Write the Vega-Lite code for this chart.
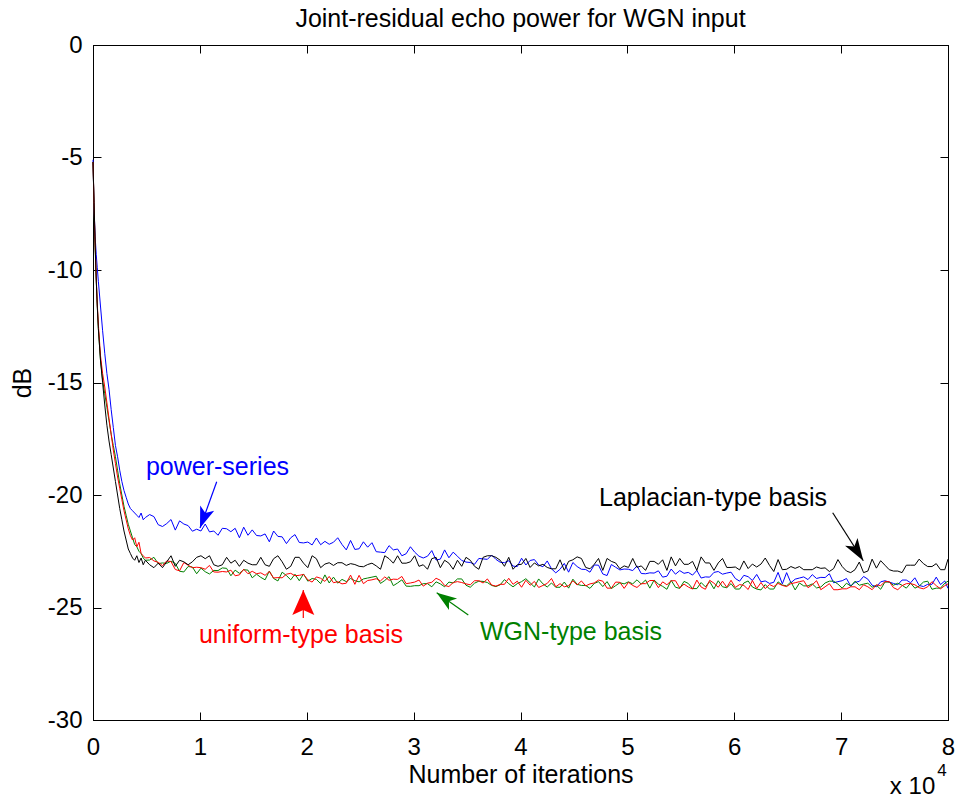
{
  "$schema": "https://vega.github.io/schema/vega-lite/v6.json",
  "width": 855,
  "height": 675,
  "autosize": {"type": "none"},
  "padding": {"left": 93, "top": 45, "right": 12, "bottom": 80},
  "background": "white",
  "config": {
    "view": {"stroke": "black", "strokeWidth": 1},
    "font": "Liberation Sans",
    "text": {"font": "Liberation Sans"}
  },
  "title": {
    "text": "Joint-residual echo power for WGN input",
    "fontSize": 25,
    "fontWeight": "normal",
    "font": "Liberation Sans",
    "color": "black",
    "offset": 1
  },
  "datasets": {
    "curves": [
      {"it":0,"lap":-5.2,"uni":-5.2,"wgn":-5.2,"pow":-5.1},
      {"it":100,"lap":-7.0,"uni":-7.1,"wgn":-7.2,"pow":-7.3},
      {"it":200,"lap":-8.8,"uni":-8.9,"wgn":-9.0,"pow":-8.5},
      {"it":300,"lap":-10.4,"uni":-10.3,"wgn":-10.4,"pow":-9.3},
      {"it":400,"lap":-11.6,"uni":-11.5,"wgn":-11.6,"pow":-9.9},
      {"it":500,"lap":-12.6,"uni":-12.4,"wgn":-12.6,"pow":-10.5},
      {"it":700,"lap":-14.0,"uni":-13.8,"wgn":-14.0,"pow":-11.6},
      {"it":900,"lap":-15.0,"uni":-14.6,"wgn":-14.9,"pow":-12.7},
      {"it":1100,"lap":-16.0,"uni":-15.2,"wgn":-15.5,"pow":-13.7},
      {"it":1300,"lap":-16.9,"uni":-15.9,"wgn":-16.1,"pow":-14.6},
      {"it":1500,"lap":-17.6,"uni":-16.6,"wgn":-16.7,"pow":-15.3},
      {"it":1700,"lap":-18.2,"uni":-17.3,"wgn":-17.3,"pow":-16.2},
      {"it":1900,"lap":-18.8,"uni":-18.0,"wgn":-17.8,"pow":-17.0},
      {"it":2100,"lap":-19.4,"uni":-18.6,"wgn":-18.3,"pow":-17.8},
      {"it":2300,"lap":-20.0,"uni":-19.2,"wgn":-18.9,"pow":-18.3},
      {"it":2500,"lap":-20.6,"uni":-19.7,"wgn":-19.5,"pow":-18.9},
      {"it":2700,"lap":-21.1,"uni":-20.2,"wgn":-20.0,"pow":-19.4},
      {"it":2900,"lap":-21.6,"uni":-20.7,"wgn":-20.5,"pow":-19.8},
      {"it":3100,"lap":-22.0,"uni":-21.1,"wgn":-20.9,"pow":-20.1},
      {"it":3300,"lap":-22.4,"uni":-21.5,"wgn":-21.3,"pow":-20.4},
      {"it":3500,"lap":-22.6,"uni":-21.8,"wgn":-21.6,"pow":-20.6},
      {"it":3700,"lap":-22.8,"uni":-22.0,"wgn":-21.9,"pow":-20.7},
      {"it":3900,"lap":-22.9,"uni":-21.9,"wgn":-22.2,"pow":-20.8},
      {"it":4100,"lap":-22.7,"uni":-22.3,"wgn":-22.3,"pow":-20.9},
      {"it":4300,"lap":-23.0,"uni":-22.1,"wgn":-22.5,"pow":-21.0},
      {"it":4500,"lap":-22.8,"uni":-22.6,"wgn":-22.6,"pow":-20.8},
      {"it":4700,"lap":-23.1,"uni":-22.7,"wgn":-22.8,"pow":-21.1},
      {"it":4900,"lap":-22.9,"uni":-22.8,"wgn":-22.9,"pow":-21.0},
      {"it":5300,"lap":-23.10,"uni":-22.78,"wgn":-22.89,"pow":-20.87},
      {"it":5700,"lap":-23.23,"uni":-22.93,"wgn":-22.77,"pow":-20.96},
      {"it":6100,"lap":-23.03,"uni":-22.99,"wgn":-23.05,"pow":-21.32},
      {"it":6500,"lap":-23.23,"uni":-23.14,"wgn":-23.02,"pow":-21.40},
      {"it":6900,"lap":-22.97,"uni":-22.93,"wgn":-23.04,"pow":-21.27},
      {"it":7300,"lap":-22.70,"uni":-22.96,"wgn":-22.94,"pow":-21.09},
      {"it":7700,"lap":-23.17,"uni":-23.31,"wgn":-23.04,"pow":-21.56},
      {"it":8100,"lap":-22.90,"uni":-23.37,"wgn":-23.39,"pow":-21.15},
      {"it":8500,"lap":-22.97,"uni":-23.00,"wgn":-23.42,"pow":-21.29},
      {"it":8900,"lap":-23.10,"uni":-23.12,"wgn":-23.18,"pow":-21.36},
      {"it":9300,"lap":-22.97,"uni":-23.23,"wgn":-23.20,"pow":-21.61},
      {"it":9700,"lap":-22.77,"uni":-23.21,"wgn":-23.50,"pow":-21.52},
      {"it":10100,"lap":-22.70,"uni":-23.23,"wgn":-23.25,"pow":-21.60},
      {"it":10500,"lap":-22.83,"uni":-23.30,"wgn":-23.41,"pow":-21.29},
      {"it":10900,"lap":-22.70,"uni":-23.13,"wgn":-23.51,"pow":-21.64},
      {"it":11300,"lap":-23.10,"uni":-23.42,"wgn":-23.35,"pow":-21.60},
      {"it":11700,"lap":-23.17,"uni":-23.43,"wgn":-23.36,"pow":-21.79},
      {"it":12100,"lap":-23.10,"uni":-23.40,"wgn":-23.24,"pow":-21.48},
      {"it":12500,"lap":-22.77,"uni":-23.42,"wgn":-23.26,"pow":-21.50},
      {"it":12900,"lap":-23.03,"uni":-23.34,"wgn":-23.59,"pow":-21.63},
      {"it":13300,"lap":-22.90,"uni":-23.59,"wgn":-23.34,"pow":-21.48},
      {"it":13700,"lap":-23.17,"uni":-23.55,"wgn":-23.48,"pow":-21.90},
      {"it":14100,"lap":-22.90,"uni":-23.30,"wgn":-23.32,"pow":-21.43},
      {"it":14500,"lap":-23.03,"uni":-23.50,"wgn":-23.34,"pow":-21.79},
      {"it":14900,"lap":-23.10,"uni":-23.39,"wgn":-23.68,"pow":-21.55},
      {"it":15300,"lap":-23.10,"uni":-23.50,"wgn":-23.52,"pow":-21.80},
      {"it":15700,"lap":-22.77,"uni":-23.46,"wgn":-23.66,"pow":-21.82},
      {"it":16100,"lap":-23.10,"uni":-23.57,"wgn":-23.77,"pow":-21.73},
      {"it":16500,"lap":-23.17,"uni":-23.40,"wgn":-23.38,"pow":-22.08},
      {"it":16900,"lap":-22.83,"uni":-23.69,"wgn":-23.71,"pow":-21.60},
      {"it":17300,"lap":-22.70,"uni":-23.67,"wgn":-23.82,"pow":-21.84},
      {"it":17700,"lap":-22.97,"uni":-23.68,"wgn":-23.43,"pow":-21.86},
      {"it":18100,"lap":-23.30,"uni":-23.52,"wgn":-23.58,"pow":-22.16},
      {"it":18500,"lap":-23.17,"uni":-23.48,"wgn":-23.77,"pow":-21.90},
      {"it":18900,"lap":-22.77,"uni":-23.59,"wgn":-23.52,"pow":-21.76},
      {"it":19300,"lap":-22.77,"uni":-23.57,"wgn":-23.81,"pow":-22.11},
      {"it":19700,"lap":-23.03,"uni":-23.53,"wgn":-23.51,"pow":-22.13},
      {"it":20100,"lap":-23.23,"uni":-23.77,"wgn":-23.83,"pow":-22.09},
      {"it":20500,"lap":-22.70,"uni":-23.87,"wgn":-23.71,"pow":-22.22},
      {"it":20900,"lap":-22.83,"uni":-23.64,"wgn":-23.75,"pow":-21.91},
      {"it":21300,"lap":-23.23,"uni":-23.70,"wgn":-23.94,"pow":-22.21},
      {"it":21700,"lap":-23.07,"uni":-23.84,"wgn":-23.55,"pow":-22.06},
      {"it":22100,"lap":-23.01,"uni":-23.62,"wgn":-23.91,"pow":-22.19},
      {"it":22500,"lap":-23.13,"uni":-23.90,"wgn":-23.65,"pow":-22.10},
      {"it":22900,"lap":-23.01,"uni":-23.85,"wgn":-23.92,"pow":-21.90},
      {"it":23300,"lap":-23.01,"uni":-23.95,"wgn":-23.75,"pow":-22.20},
      {"it":23700,"lap":-23.13,"uni":-23.92,"wgn":-23.85,"pow":-22.44},
      {"it":24100,"lap":-23.05,"uni":-23.56,"wgn":-23.71,"pow":-22.02},
      {"it":24500,"lap":-23.09,"uni":-23.97,"wgn":-23.81,"pow":-22.42},
      {"it":24900,"lap":-23.17,"uni":-23.57,"wgn":-23.86,"pow":-22.39},
      {"it":25300,"lap":-23.19,"uni":-23.94,"wgn":-23.73,"pow":-22.08},
      {"it":25700,"lap":-23.09,"uni":-23.80,"wgn":-23.69,"pow":-22.32},
      {"it":26100,"lap":-23.03,"uni":-23.77,"wgn":-23.65,"pow":-22.12},
      {"it":26500,"lap":-23.15,"uni":-23.72,"wgn":-23.61,"pow":-22.52},
      {"it":26900,"lap":-23.30,"uni":-23.82,"wgn":-23.93,"pow":-22.54},
      {"it":27300,"lap":-22.70,"uni":-23.64,"wgn":-23.80,"pow":-22.56},
      {"it":27700,"lap":-22.83,"uni":-23.79,"wgn":-23.63,"pow":-22.25},
      {"it":28100,"lap":-23.03,"uni":-23.74,"wgn":-24.03,"pow":-22.44},
      {"it":28500,"lap":-22.70,"uni":-23.75,"wgn":-23.91,"pow":-22.40},
      {"it":28900,"lap":-23.03,"uni":-23.62,"wgn":-23.77,"pow":-22.70},
      {"it":29300,"lap":-23.03,"uni":-23.94,"wgn":-24.05,"pow":-22.61},
      {"it":29700,"lap":-22.97,"uni":-23.91,"wgn":-24.06,"pow":-22.30},
      {"it":30100,"lap":-22.70,"uni":-23.87,"wgn":-24.03,"pow":-22.54},
      {"it":30500,"lap":-23.17,"uni":-23.78,"wgn":-24.03,"pow":-22.72},
      {"it":30900,"lap":-23.10,"uni":-24.05,"wgn":-23.94,"pow":-22.80},
      {"it":31300,"lap":-23.30,"uni":-23.92,"wgn":-23.94,"pow":-22.72},
      {"it":31700,"lap":-22.83,"uni":-23.88,"wgn":-24.08,"pow":-22.47},
      {"it":32100,"lap":-22.77,"uni":-23.70,"wgn":-23.86,"pow":-22.89},
      {"it":32500,"lap":-23.23,"uni":-23.79,"wgn":-23.95,"pow":-22.85},
      {"it":32900,"lap":-22.90,"uni":-24.02,"wgn":-24.08,"pow":-22.44},
      {"it":33300,"lap":-23.03,"uni":-24.07,"wgn":-23.87,"pow":-22.79},
      {"it":33700,"lap":-23.30,"uni":-23.89,"wgn":-23.91,"pow":-22.54},
      {"it":34100,"lap":-22.90,"uni":-23.85,"wgn":-23.73,"pow":-22.72},
      {"it":34500,"lap":-23.17,"uni":-23.89,"wgn":-23.73,"pow":-22.91},
      {"it":34900,"lap":-22.77,"uni":-23.95,"wgn":-24.01,"pow":-22.98},
      {"it":35300,"lap":-22.90,"uni":-23.99,"wgn":-24.10,"pow":-23.00},
      {"it":35700,"lap":-23.17,"uni":-23.81,"wgn":-23.92,"pow":-23.08},
      {"it":36100,"lap":-23.30,"uni":-23.81,"wgn":-23.83,"pow":-22.82},
      {"it":36500,"lap":-22.77,"uni":-23.91,"wgn":-23.84,"pow":-22.84},
      {"it":36900,"lap":-22.70,"uni":-23.73,"wgn":-23.89,"pow":-22.86},
      {"it":37300,"lap":-22.70,"uni":-24.00,"wgn":-24.02,"pow":-22.67},
      {"it":37700,"lap":-22.77,"uni":-24.05,"wgn":-24.07,"pow":-22.86},
      {"it":38100,"lap":-22.90,"uni":-23.97,"wgn":-23.99,"pow":-22.99},
      {"it":38500,"lap":-23.17,"uni":-23.97,"wgn":-23.76,"pow":-23.01},
      {"it":38900,"lap":-22.77,"uni":-23.70,"wgn":-23.94,"pow":-22.92},
      {"it":39300,"lap":-23.30,"uni":-23.97,"wgn":-24.08,"pow":-23.16},
      {"it":39700,"lap":-23.10,"uni":-23.83,"wgn":-23.94,"pow":-23.18},
      {"it":40100,"lap":-23.08,"uni":-24.10,"wgn":-23.85,"pow":-22.81},
      {"it":40500,"lap":-22.82,"uni":-23.79,"wgn":-23.72,"pow":-23.11},
      {"it":40900,"lap":-23.22,"uni":-24.01,"wgn":-23.90,"pow":-22.91},
      {"it":41300,"lap":-23.02,"uni":-23.84,"wgn":-24.09,"pow":-22.87},
      {"it":41700,"lap":-23.15,"uni":-24.11,"wgn":-23.73,"pow":-23.11},
      {"it":42100,"lap":-23.08,"uni":-24.02,"wgn":-23.95,"pow":-23.19},
      {"it":42500,"lap":-23.22,"uni":-23.93,"wgn":-24.09,"pow":-22.93},
      {"it":42900,"lap":-23.28,"uni":-23.71,"wgn":-23.91,"pow":-23.28},
      {"it":43300,"lap":-23.28,"uni":-24.08,"wgn":-24.10,"pow":-23.46},
      {"it":43700,"lap":-22.88,"uni":-23.94,"wgn":-24.10,"pow":-23.30},
      {"it":44100,"lap":-23.35,"uni":-24.08,"wgn":-23.87,"pow":-23.04},
      {"it":44500,"lap":-22.95,"uni":-24.03,"wgn":-24.14,"pow":-23.43},
      {"it":44900,"lap":-22.88,"uni":-23.81,"wgn":-23.74,"pow":-23.00},
      {"it":45300,"lap":-22.75,"uni":-24.00,"wgn":-23.97,"pow":-23.18},
      {"it":45700,"lap":-22.82,"uni":-23.82,"wgn":-24.02,"pow":-23.30},
      {"it":46100,"lap":-23.22,"uni":-24.04,"wgn":-24.02,"pow":-23.31},
      {"it":46500,"lap":-23.28,"uni":-23.95,"wgn":-24.15,"pow":-23.43},
      {"it":46900,"lap":-23.08,"uni":-23.91,"wgn":-23.93,"pow":-23.11},
      {"it":47300,"lap":-22.82,"uni":-23.78,"wgn":-23.85,"pow":-23.12},
      {"it":47700,"lap":-23.35,"uni":-23.83,"wgn":-24.07,"pow":-23.51},
      {"it":48100,"lap":-22.82,"uni":-24.14,"wgn":-23.85,"pow":-23.58},
      {"it":48500,"lap":-22.95,"uni":-24.14,"wgn":-24.16,"pow":-23.09},
      {"it":48900,"lap":-23.02,"uni":-23.87,"wgn":-24.03,"pow":-23.21},
      {"it":49300,"lap":-23.28,"uni":-23.88,"wgn":-23.90,"pow":-23.33},
      {"it":49700,"lap":-23.15,"uni":-24.15,"wgn":-23.95,"pow":-23.29},
      {"it":50100,"lap":-23.22,"uni":-23.88,"wgn":-23.86,"pow":-23.30},
      {"it":50500,"lap":-22.82,"uni":-24.02,"wgn":-23.95,"pow":-23.36},
      {"it":50900,"lap":-23.22,"uni":-24.11,"wgn":-23.77,"pow":-23.15},
      {"it":51300,"lap":-23.15,"uni":-23.94,"wgn":-23.96,"pow":-23.49},
      {"it":51700,"lap":-23.35,"uni":-23.94,"wgn":-23.78,"pow":-23.50},
      {"it":52100,"lap":-22.95,"uni":-23.80,"wgn":-24.14,"pow":-23.46},
      {"it":52500,"lap":-22.95,"uni":-23.80,"wgn":-23.78,"pow":-23.47},
      {"it":52900,"lap":-23.08,"uni":-24.12,"wgn":-23.96,"pow":-23.37},
      {"it":53300,"lap":-22.88,"uni":-23.86,"wgn":-24.06,"pow":-23.65},
      {"it":53700,"lap":-23.35,"uni":-23.99,"wgn":-24.19,"pow":-23.61},
      {"it":54100,"lap":-22.75,"uni":-23.81,"wgn":-23.79,"pow":-23.29},
      {"it":54500,"lap":-23.15,"uni":-23.81,"wgn":-24.10,"pow":-23.52},
      {"it":54900,"lap":-22.82,"uni":-24.13,"wgn":-24.15,"pow":-23.36},
      {"it":55300,"lap":-23.08,"uni":-23.96,"wgn":-23.84,"pow":-23.48},
      {"it":55700,"lap":-23.08,"uni":-24.09,"wgn":-23.93,"pow":-23.44},
      {"it":56100,"lap":-22.95,"uni":-24.18,"wgn":-24.16,"pow":-23.56},
      {"it":56500,"lap":-23.35,"uni":-23.78,"wgn":-24.16,"pow":-23.35},
      {"it":56900,"lap":-22.75,"uni":-24.09,"wgn":-23.89,"pow":-23.69},
      {"it":57300,"lap":-23.02,"uni":-24.19,"wgn":-24.08,"pow":-23.64},
      {"it":57700,"lap":-23.02,"uni":-23.79,"wgn":-23.85,"pow":-23.65},
      {"it":58100,"lap":-23.35,"uni":-23.92,"wgn":-24.17,"pow":-23.44},
      {"it":58500,"lap":-23.02,"uni":-24.10,"wgn":-23.81,"pow":-23.40},
      {"it":58900,"lap":-22.82,"uni":-23.83,"wgn":-24.08,"pow":-23.52},
      {"it":59300,"lap":-23.22,"uni":-24.10,"wgn":-24.12,"pow":-23.47},
      {"it":59700,"lap":-23.22,"uni":-23.79,"wgn":-23.94,"pow":-23.43},
      {"it":60100,"lap":-23.20,"uni":-24.11,"wgn":-24.18,"pow":-23.71},
      {"it":60500,"lap":-23.33,"uni":-23.98,"wgn":-24.18,"pow":-23.83},
      {"it":60900,"lap":-22.93,"uni":-24.02,"wgn":-23.91,"pow":-23.57},
      {"it":61300,"lap":-23.27,"uni":-24.20,"wgn":-23.82,"pow":-23.63},
      {"it":61700,"lap":-23.07,"uni":-23.80,"wgn":-24.09,"pow":-23.80},
      {"it":62100,"lap":-23.20,"uni":-24.16,"wgn":-24.18,"pow":-23.53},
      {"it":62500,"lap":-23.07,"uni":-23.89,"wgn":-24.22,"pow":-23.86},
      {"it":62900,"lap":-22.80,"uni":-24.16,"wgn":-23.98,"pow":-23.82},
      {"it":63300,"lap":-23.13,"uni":-23.98,"wgn":-24.18,"pow":-23.93},
      {"it":63700,"lap":-23.40,"uni":-24.07,"wgn":-24.18,"pow":-23.88},
      {"it":64100,"lap":-22.87,"uni":-23.93,"wgn":-23.86,"pow":-23.44},
      {"it":64500,"lap":-23.32,"uni":-24.02,"wgn":-24.00,"pow":-23.95},
      {"it":64900,"lap":-23.30,"uni":-24.07,"wgn":-24.04,"pow":-23.45},
      {"it":65300,"lap":-23.18,"uni":-23.94,"wgn":-23.86,"pow":-23.90},
      {"it":65700,"lap":-23.26,"uni":-23.90,"wgn":-24.22,"pow":-23.74},
      {"it":66100,"lap":-23.18,"uni":-23.85,"wgn":-23.91,"pow":-23.69},
      {"it":66500,"lap":-23.32,"uni":-23.81,"wgn":-24.04,"pow":-23.64},
      {"it":66900,"lap":-23.32,"uni":-24.12,"wgn":-24.04,"pow":-23.76},
      {"it":67300,"lap":-23.32,"uni":-23.99,"wgn":-23.95,"pow":-23.54},
      {"it":67700,"lap":-23.20,"uni":-23.81,"wgn":-24.13,"pow":-23.71},
      {"it":68100,"lap":-23.26,"uni":-24.21,"wgn":-24.09,"pow":-23.66},
      {"it":68500,"lap":-23.24,"uni":-24.08,"wgn":-23.91,"pow":-23.67},
      {"it":68900,"lap":-23.40,"uni":-23.94,"wgn":-23.83,"pow":-23.50},
      {"it":69300,"lap":-23.27,"uni":-24.21,"wgn":-23.83,"pow":-23.90},
      {"it":69700,"lap":-22.87,"uni":-24.21,"wgn":-23.96,"pow":-23.85},
      {"it":70100,"lap":-23.18,"uni":-24.17,"wgn":-24.14,"pow":-23.81},
      {"it":70500,"lap":-23.38,"uni":-24.17,"wgn":-23.92,"pow":-23.71},
      {"it":70900,"lap":-23.45,"uni":-24.08,"wgn":-24.05,"pow":-24.05},
      {"it":71300,"lap":-23.32,"uni":-24.08,"wgn":-23.83,"pow":-23.88},
      {"it":71700,"lap":-22.98,"uni":-24.21,"wgn":-24.01,"pow":-23.84},
      {"it":72100,"lap":-23.45,"uni":-23.99,"wgn":-23.96,"pow":-23.62},
      {"it":72500,"lap":-23.38,"uni":-24.08,"wgn":-23.92,"pow":-23.74},
      {"it":72900,"lap":-22.85,"uni":-24.21,"wgn":-24.10,"pow":-24.01},
      {"it":73300,"lap":-23.25,"uni":-23.99,"wgn":-24.01,"pow":-24.08},
      {"it":73700,"lap":-22.92,"uni":-24.03,"wgn":-24.19,"pow":-23.86},
      {"it":74100,"lap":-23.12,"uni":-23.85,"wgn":-23.87,"pow":-23.81},
      {"it":74500,"lap":-23.32,"uni":-23.85,"wgn":-23.87,"pow":-23.87},
      {"it":74900,"lap":-23.38,"uni":-24.12,"wgn":-24.01,"pow":-23.93},
      {"it":75300,"lap":-23.38,"uni":-24.21,"wgn":-23.92,"pow":-23.99},
      {"it":75700,"lap":-23.45,"uni":-24.03,"wgn":-24.01,"pow":-23.78},
      {"it":76100,"lap":-23.12,"uni":-23.94,"wgn":-24.14,"pow":-23.78},
      {"it":76500,"lap":-23.12,"uni":-23.94,"wgn":-23.92,"pow":-23.90},
      {"it":76900,"lap":-23.12,"uni":-23.99,"wgn":-24.14,"pow":-23.68},
      {"it":77300,"lap":-22.85,"uni":-24.12,"wgn":-24.05,"pow":-24.02},
      {"it":77700,"lap":-23.05,"uni":-24.17,"wgn":-23.87,"pow":-24.07},
      {"it":78100,"lap":-23.18,"uni":-24.08,"wgn":-23.83,"pow":-23.97},
      {"it":78500,"lap":-23.18,"uni":-23.85,"wgn":-24.19,"pow":-23.97},
      {"it":78900,"lap":-23.05,"uni":-24.03,"wgn":-24.14,"pow":-23.65},
      {"it":79300,"lap":-23.32,"uni":-24.17,"wgn":-24.14,"pow":-23.98},
      {"it":79700,"lap":-23.32,"uni":-24.03,"wgn":-23.92,"pow":-23.82},
      {"it":80000,"lap":-22.85,"uni":-23.95,"wgn":-23.83,"pow":-24.15}
    ],
    "arrows": [
      {"s":"pow","it":10012,"db":-21.47,"it0":11575,"db0":-19.41},
      {"s":"uni","it":19677,"db":-24.22,"it0":19677,"db0":-25.47},
      {"s":"wgn","it":32159,"db":-24.34,"it0":35116,"db0":-25.33},
      {"s":"lap","it":72075,"db":-22.92,"it0":69212,"db0":-20.79}
    ],
    "notes": [
      {"s":"pow","it":11649,"db":-18.76,"label":"power-series"},
      {"s":"lap","it":58012,"db":-20.13,"label":"Laplacian-type basis"},
      {"s":"uni","it":19462,"db":-26.2,"label":"uniform-type basis"},
      {"s":"wgn","it":44725,"db":-26.1,"label":"WGN-type basis"}
    ]
  },
  "resolve": {"axis": {"x": "independent", "y": "independent"}},
  "layer": [
    {
      "data": {"name": "curves"},
      "transform": [{"fold": ["pow", "wgn", "uni", "lap"], "as": ["s", "db"]}, {"filter": "datum.s === 'pow'"}],
      "mark": {"type": "line", "color": "#0000ff", "strokeWidth": 1},
      "encoding": {
        "x": {"field": "it", "type": "quantitative",
          "scale": {"domain": [0, 80000], "nice": false, "zero": false},
          "axis": {"orient": "bottom", "values": [0,10000,20000,30000,40000,50000,60000,70000,80000],
            "labelExpr": "'' + (datum.value/10000)",
            "title": "Number of iterations", "titleFontSize": 25, "titleFontWeight": "normal", "titleColor": "black", "titleFont": "Liberation Sans", "titlePadding": 3,
            "labelFontSize": 24, "labelColor": "black", "labelFont": "Liberation Sans", "labelPadding": 23, "labelFlush": false, "labelOverlap": false,
            "tickSize": -8, "tickColor": "black", "domainColor": "black", "grid": false}},
        "y": {"field": "db", "type": "quantitative",
          "scale": {"domain": [-30, 0], "nice": false, "zero": false},
          "axis": {"orient": "left", "values": [-30,-25,-20,-15,-10,-5,0],
            "labelExpr": "'' + datum.value",
            "title": "dB", "titleFontSize": 25, "titleFontWeight": "normal", "titleColor": "black", "titleFont": "Liberation Sans", "titlePadding": 12,
            "labelFontSize": 24, "labelColor": "black", "labelFont": "Liberation Sans", "labelPadding": 19, "labelFlush": false, "labelOverlap": false,
            "tickSize": -8, "tickColor": "black", "domainColor": "black", "grid": false}}
      }
    },
    {
      "data": {"name": "curves"},
      "transform": [{"fold": ["pow", "wgn", "uni", "lap"], "as": ["s", "db"]}, {"filter": "datum.s === 'wgn'"}],
      "mark": {"type": "line", "color": "#008000", "strokeWidth": 1},
      "encoding": {
        "x": {"field": "it", "type": "quantitative", "axis": null},
        "y": {"field": "db", "type": "quantitative", "axis": null}
      }
    },
    {
      "data": {"name": "curves"},
      "transform": [{"fold": ["pow", "wgn", "uni", "lap"], "as": ["s", "db"]}, {"filter": "datum.s === 'uni'"}],
      "mark": {"type": "line", "color": "#ff0000", "strokeWidth": 1},
      "encoding": {
        "x": {"field": "it", "type": "quantitative", "axis": null},
        "y": {"field": "db", "type": "quantitative", "axis": null}
      }
    },
    {
      "data": {"name": "curves"},
      "transform": [{"fold": ["pow", "wgn", "uni", "lap"], "as": ["s", "db"]}, {"filter": "datum.s === 'lap'"}],
      "mark": {"type": "line", "color": "#000000", "strokeWidth": 1},
      "encoding": {
        "x": {"field": "it", "type": "quantitative",
          "axis": {"orient": "top", "values": [0,10000,20000,30000,40000,50000,60000,70000,80000], "labels": false, "title": null,
            "tickSize": -8, "tickColor": "black", "domainColor": "black", "grid": false}},
        "y": {"field": "db", "type": "quantitative",
          "axis": {"orient": "right", "values": [-30,-25,-20,-15,-10,-5,0], "labels": false, "title": null,
            "tickSize": -8, "tickColor": "black", "domainColor": "black", "grid": false}}
      }
    },
    {
      "data": {"name": "arrows"},
      "mark": {"type": "rule", "strokeWidth": 1.2},
      "encoding": {
        "x": {"field": "it", "type": "quantitative", "axis": null},
        "y": {"field": "db", "type": "quantitative", "axis": null},
        "x2": {"field": "it0"},
        "y2": {"field": "db0"},
        "color": {"field": "s", "type": "nominal", "legend": null,
          "scale": {"domain": ["pow", "wgn", "uni", "lap"], "range": ["#0000ff", "#008000", "#ff0000", "#000000"]}}
      }
    },
    {
      "data": {"name": "arrows"},
      "transform": [{"filter": "datum.s === 'pow'"}],
      "mark": {"type": "point", "shape": "M0,0L0.35,1L0,0.75L-0.35,1Z", "filled": true, "opacity": 1, "size": 1800, "angle": 199.8, "color": "#0000ff", "strokeWidth": 0},
      "encoding": {
        "x": {"field": "it", "type": "quantitative", "axis": null},
        "y": {"field": "db", "type": "quantitative", "axis": null}
      }
    },
    {
      "data": {"name": "arrows"},
      "transform": [{"filter": "datum.s === 'uni'"}],
      "mark": {"type": "point", "shape": "M0,0L0.44,1L0,0.8L-0.44,1Z", "filled": true, "opacity": 1, "size": 2500, "angle": 0, "color": "#ff0000", "strokeWidth": 0},
      "encoding": {
        "x": {"field": "it", "type": "quantitative", "axis": null},
        "y": {"field": "db", "type": "quantitative", "axis": null}
      }
    },
    {
      "data": {"name": "arrows"},
      "transform": [{"filter": "datum.s === 'wgn'"}],
      "mark": {"type": "point", "shape": "M0,0L0.35,1L0,0.75L-0.35,1Z", "filled": true, "opacity": 1, "size": 1600, "angle": 305.2, "color": "#008000", "strokeWidth": 0},
      "encoding": {
        "x": {"field": "it", "type": "quantitative", "axis": null},
        "y": {"field": "db", "type": "quantitative", "axis": null}
      }
    },
    {
      "data": {"name": "arrows"},
      "transform": [{"filter": "datum.s === 'lap'"}],
      "mark": {"type": "point", "shape": "M0,0L0.33,1L0,0.75L-0.33,1Z", "filled": true, "opacity": 1, "size": 2000, "angle": 147.5, "color": "#000000", "strokeWidth": 0},
      "encoding": {
        "x": {"field": "it", "type": "quantitative", "axis": null},
        "y": {"field": "db", "type": "quantitative", "axis": null}
      }
    },
    {
      "data": {"name": "notes"},
      "mark": {"type": "text", "fontSize": 25, "font": "Liberation Sans", "align": "center", "baseline": "middle"},
      "encoding": {
        "x": {"field": "it", "type": "quantitative", "axis": null},
        "y": {"field": "db", "type": "quantitative", "axis": null},
        "text": {"field": "label"},
        "color": {"field": "s", "type": "nominal", "legend": null,
          "scale": {"domain": ["pow", "wgn", "uni", "lap"], "range": ["#0000ff", "#008000", "#ff0000", "#000000"]}}
      }
    },
    {
      "data": {"values": [{"it": 78807, "db": -32.98, "t": "x 10"}]},
      "mark": {"type": "text", "fontSize": 24, "font": "Liberation Sans", "align": "right", "baseline": "middle", "color": "black"},
      "encoding": {
        "x": {"field": "it", "type": "quantitative", "axis": null},
        "y": {"field": "db", "type": "quantitative", "axis": null},
        "text": {"field": "t"}
      }
    },
    {
      "data": {"values": [{"it": 79439, "db": -32.27, "t": "4"}]},
      "mark": {"type": "text", "fontSize": 17, "font": "Liberation Sans", "align": "center", "baseline": "middle", "color": "black"},
      "encoding": {
        "x": {"field": "it", "type": "quantitative", "axis": null},
        "y": {"field": "db", "type": "quantitative", "axis": null},
        "text": {"field": "t"}
      }
    }
  ]
}
